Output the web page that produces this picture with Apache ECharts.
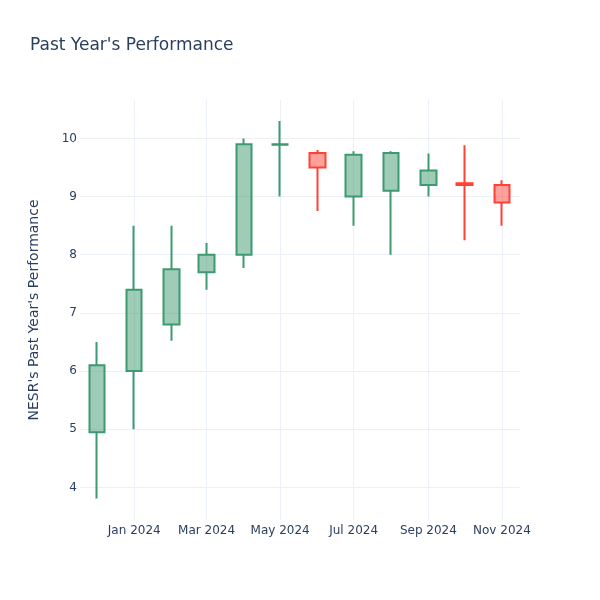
<!DOCTYPE html>
<html>
<head>
<meta charset="utf-8">
<script src="https://cdn.jsdelivr.net/npm/echarts@6/dist/echarts.min.js"></script>
<style>html,body{margin:0;padding:0;background:#fff}#c{width:600px;height:600px}</style>
</head>
<body>
<div id="c"></div>
<script>
// Monthly candles (first of month)
const months = ['2023-12-01','2024-01-01','2024-02-01','2024-03-01','2024-04-01','2024-05-01','2024-06-01','2024-07-01','2024-08-01','2024-09-01','2024-10-01','2024-11-01'];
const openVals  = [4.95, 6.00, 6.80, 7.70, 8.00, 9.89, 9.75, 9.00, 9.10, 9.20, 9.23, 9.20];
const closeVals = [6.10, 7.40, 7.75, 8.00, 9.90, 9.90, 9.50, 9.72, 9.75, 9.45, 9.20, 8.90];
const lowVals   = [3.81, 5.00, 6.52, 7.40, 7.77, 9.00, 8.75, 8.50, 8.00, 9.00, 8.25, 8.50];
const highVals  = [6.50, 8.50, 8.50, 8.20, 10.00, 10.30, 9.80, 9.78, 9.78, 9.74, 9.88, 9.28];
const xTickDates = ['2024-01-01','2024-03-01','2024-05-01','2024-07-01','2024-09-01','2024-11-01'];
const yTicks = [4, 5, 6, 7, 8, 9, 10];
const xRange = ['2023-11-17','2024-11-16'];
const yRange = [3.44, 10.66];

const MONTHS = ['Jan','Feb','Mar','Apr','May','Jun','Jul','Aug','Sep','Oct','Nov','Dec'];
function ts(s){ const p = s.split('-').map(Number); return Date.UTC(p[0], p[1]-1, p[2]); }

const data = months.map((m,i)=>[ts(m), openVals[i], closeVals[i], lowVals[i], highVals[i]]);
const txtColor = '#2a3f5f';
const font = 'DejaVu Sans';

const chart = echarts.init(document.getElementById('c'), null, {renderer:'canvas'});
chart.setOption({
  animation:false,
  backgroundColor:'#fff',
  title:{
    text:"Past Year's Performance",
    left:25, top:32,
    textStyle:{fontFamily:font, fontSize:17, fontWeight:'normal', color:txtColor}
  },
  grid:{left:80, right:80, top:100, bottom:80, containLabel:false},
  xAxis:{
    type:'value',
    scale:true,
    min: ts(xRange[0]), max: ts(xRange[1]),
    axisLine:{show:false},
    axisTick:{show:false, customValues: xTickDates.map(ts)},
    axisLabel:{
      customValues: xTickDates.map(ts),
      fontFamily:font, fontSize:12, color:txtColor, margin:5,
      formatter: v => { const d = new Date(v); return MONTHS[d.getUTCMonth()] + ' ' + d.getUTCFullYear(); }
    },
    splitLine:{show:true, lineStyle:{color:'#EBF0F8', width:1}}
  },
  yAxis:{
    type:'value',
    min: yRange[0], max: yRange[1],
    name:"NESR's Past Year's Performance",
    nameLocation:'middle', nameGap:39,
    nameTextStyle:{fontFamily:font, fontSize:14, color:txtColor},
    axisLine:{show:false},
    axisTick:{show:false, customValues: yTicks},
    axisLabel:{customValues: yTicks, fontFamily:font, fontSize:12, color:txtColor, margin:3},
    splitLine:{show:true, lineStyle:{color:'#EBF0F8', width:1}}
  },
  series:[{
    type:'candlestick',
    barWidth:16,
    encode:{x:0, y:[1,2,3,4]},
    data:data,
    itemStyle:{
      color:'rgba(61,153,112,0.5)',
      color0:'rgba(255,65,54,0.5)',
      borderColor:'#3D9970',
      borderColor0:'#FF4136',
      borderWidth:2
    }
  }]
});
</script>
</body>
</html>
